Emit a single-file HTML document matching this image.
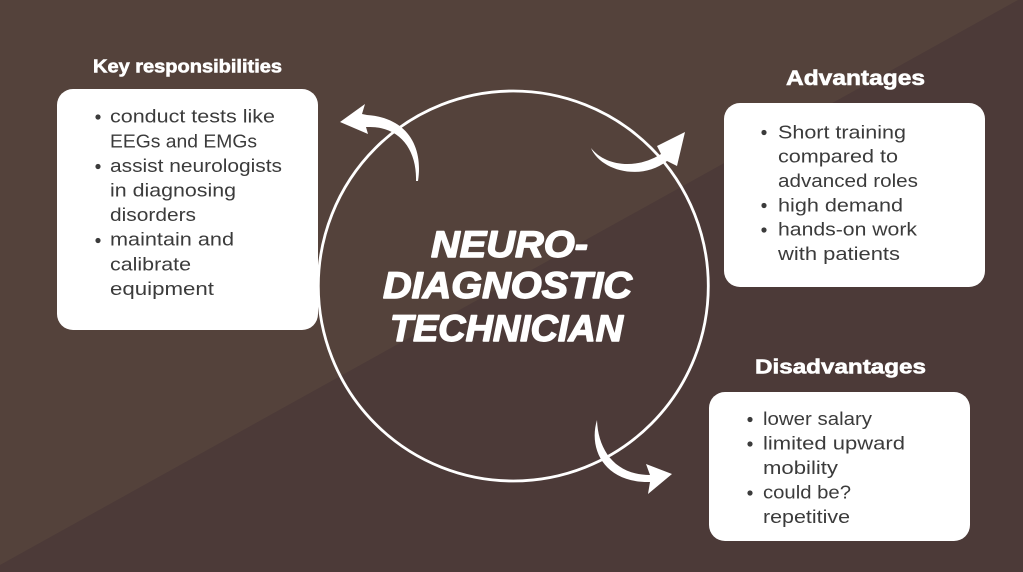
<!DOCTYPE html>
<html>
<head>
<meta charset="utf-8">
<style>
html,body{margin:0;padding:0;width:1023px;height:572px;overflow:hidden;background:#4c3a38;}
svg{display:block;}
.t{font-family:"Liberation Sans",sans-serif;font-size:18px;fill:#3b3b3b;}
.h{font-family:"Liberation Sans",sans-serif;font-weight:bold;fill:#ffffff;stroke:#ffffff;stroke-width:0.6;}
.c{font-family:"Liberation Sans",sans-serif;font-weight:bold;font-style:italic;font-size:37px;fill:#ffffff;stroke:#ffffff;stroke-width:1.4;stroke-linejoin:round;}
</style>
</head>
<body>
<svg width="1023" height="572" viewBox="0 0 1023 572" xmlns="http://www.w3.org/2000/svg">
  <rect x="0" y="0" width="1023" height="572" fill="#4c3a38"/>
  <polygon points="0,0 1018,0 0,565" fill="#54423b"/>

  <!-- boxes -->
  <rect x="57" y="89" width="261" height="241" rx="16" ry="16" fill="#ffffff"/>
  <rect x="724" y="103" width="261" height="184" rx="16" ry="16" fill="#ffffff"/>
  <rect x="709" y="392" width="261" height="149" rx="16" ry="16" fill="#ffffff"/>

  <!-- circle -->
  <circle cx="513.3" cy="286" r="195" fill="none" stroke="#ffffff" stroke-width="2.8"/>

  <!-- arrows -->
  <path d="M418,181 C423,150 410,118 367,115 L362,114 L365,104 L340,122 L368,134 L366,127 L370,127 C400,127 417,150 416,181 Z" fill="#ffffff"/>
  <path d="M591,148 C600,170 640,182 667,161 L677,166 L685,132 L657,146 L661,154 C636,170 605,166 591,148 Z" fill="#ffffff"/>
  <path d="M597,420 C588,450 605,483 650,482 L648,494 L672,474 L646,464 L650,475 C615,475 598,450 597,420 Z" fill="#ffffff"/>

  <!-- titles -->
  <text class="h" x="93" y="72.5" font-size="18" textLength="189" lengthAdjust="spacingAndGlyphs">Key responsibilities</text>
  <text class="h" x="786" y="85" font-size="21" textLength="139" lengthAdjust="spacingAndGlyphs">Advantages</text>
  <text class="h" x="755" y="373.5" font-size="20.5" textLength="171" lengthAdjust="spacingAndGlyphs">Disadvantages</text>

  <!-- center -->
  <text class="c" x="431" y="257" textLength="157" lengthAdjust="spacingAndGlyphs">NEURO-</text>
  <text class="c" x="383" y="298" textLength="249" lengthAdjust="spacingAndGlyphs">DIAGNOSTIC</text>
  <text class="c" x="390" y="341" textLength="233" lengthAdjust="spacingAndGlyphs">TECHNICIAN</text>

  <!-- left list -->
  <g fill="#3b3b3b">
    <circle cx="98" cy="117" r="2.6"/>
    <circle cx="98" cy="166.5" r="2.6"/>
    <circle cx="98" cy="240.5" r="2.6"/>
  </g>
  <text class="t" x="110" y="122.7" textLength="165" lengthAdjust="spacingAndGlyphs">conduct tests like</text>
  <text class="t" x="110" y="147.3" textLength="147" lengthAdjust="spacingAndGlyphs">EEGs and EMGs</text>
  <text class="t" x="110" y="172" textLength="172" lengthAdjust="spacingAndGlyphs">assist neurologists</text>
  <text class="t" x="110" y="196.5" textLength="126" lengthAdjust="spacingAndGlyphs">in diagnosing</text>
  <text class="t" x="110" y="221.1" textLength="86" lengthAdjust="spacingAndGlyphs">disorders</text>
  <text class="t" x="110" y="245.7" textLength="124" lengthAdjust="spacingAndGlyphs">maintain and</text>
  <text class="t" x="110" y="270.4" textLength="81" lengthAdjust="spacingAndGlyphs">calibrate</text>
  <text class="t" x="110" y="295" textLength="104" lengthAdjust="spacingAndGlyphs">equipment</text>

  <!-- advantages list -->
  <g fill="#3b3b3b">
    <circle cx="764" cy="132.5" r="2.6"/>
    <circle cx="764" cy="205.5" r="2.6"/>
    <circle cx="764" cy="230" r="2.6"/>
  </g>
  <text class="t" x="778" y="138.3" textLength="128" lengthAdjust="spacingAndGlyphs">Short training</text>
  <text class="t" x="778" y="162.6" textLength="120" lengthAdjust="spacingAndGlyphs">compared to</text>
  <text class="t" x="778" y="187" textLength="140" lengthAdjust="spacingAndGlyphs">advanced roles</text>
  <text class="t" x="778" y="211.3" textLength="125" lengthAdjust="spacingAndGlyphs">high demand</text>
  <text class="t" x="778" y="235.6" textLength="139" lengthAdjust="spacingAndGlyphs">hands-on work</text>
  <text class="t" x="778" y="260" textLength="122" lengthAdjust="spacingAndGlyphs">with patients</text>

  <!-- disadvantages list -->
  <g fill="#3b3b3b">
    <circle cx="750" cy="419.5" r="2.6"/>
    <circle cx="750" cy="444" r="2.6"/>
    <circle cx="750" cy="493" r="2.6"/>
  </g>
  <text class="t" x="763" y="425" textLength="109" lengthAdjust="spacingAndGlyphs">lower salary</text>
  <text class="t" x="763" y="449.5" textLength="142" lengthAdjust="spacingAndGlyphs">limited upward</text>
  <text class="t" x="763" y="474" textLength="75" lengthAdjust="spacingAndGlyphs">mobility</text>
  <text class="t" x="763" y="498.5" textLength="88" lengthAdjust="spacingAndGlyphs">could be?</text>
  <text class="t" x="763" y="523" textLength="87" lengthAdjust="spacingAndGlyphs">repetitive</text>
</svg>
</body>
</html>
